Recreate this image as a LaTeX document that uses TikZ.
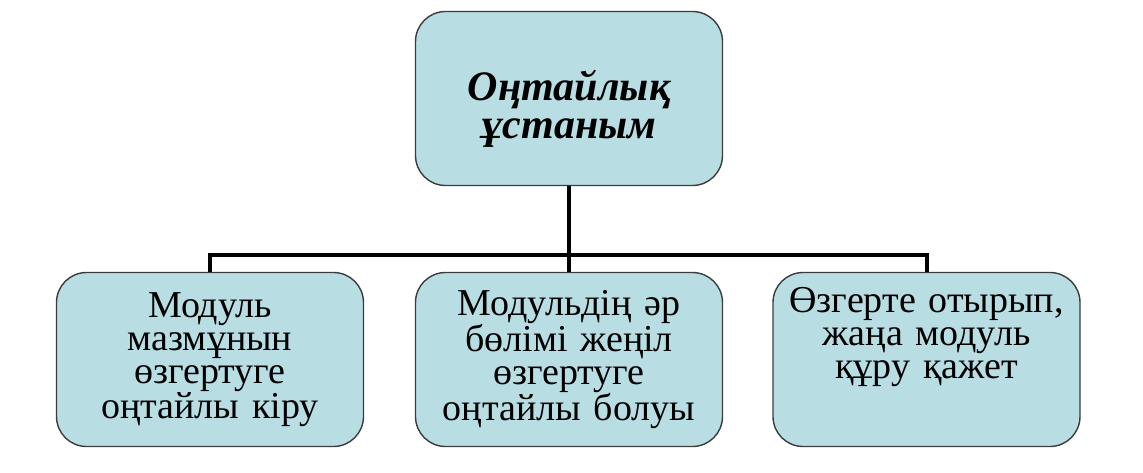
\documentclass[tikz,border=0pt]{standalone}
\usepackage{fontspec}
\setmainfont{Liberation Serif}
\definecolor{boxfill}{RGB}{184,222,228}
\definecolor{boxline}{RGB}{60,60,60}
\begin{document}
\begin{tikzpicture}[x=1pt,y=-1pt,
  box/.style={draw=boxline, line width=1.4pt, fill=boxfill, rounded corners=30pt,
    minimum width=307pt, minimum height=174pt, inner sep=0pt},
  lbl/.style={text width=300pt, align=center, inner sep=0pt,
    font=\fontsize{38}{33}\selectfont},
  toplbl/.style={text width=300pt, align=center, inner sep=0pt,
    font=\fontsize{42}{38}\selectfont\bfseries\itshape},
  conn/.style={line width=4pt, black}]
\useasboundingbox (0,0) rectangle (1143,473);
\node[box] (T) at (569,98.5) {};
\node[box] (L) at (210,359.5) {};
\node[box] (M) at (569,359.5) {};
\node[box] (R) at (926.5,359.5) {};
\node[toplbl, anchor=base] (Tt) at (569,101) {Оңтайлық\\ұстаным};
\node[lbl, anchor=base] (Lt) at (210,317) {Модуль\\мазмұнын\\өзгертуге\\оңтайлы кіру};
\node[lbl, anchor=base] (Mt) at (569,315) {Модульдің әр\\бөлімі жеңіл\\өзгертуге\\оңтайлы болуы};
\node[lbl, anchor=base] (Rt) at (926.5,312) {Өзгерте отырып,\\жаңа модуль\\құру қажет};
\coordinate (bus) at (569,255);
\draw[conn] (T.south) -- (M.north);
\draw[conn] (L.north) |- (bus) -| (R.north);
\end{tikzpicture}
\end{document}
